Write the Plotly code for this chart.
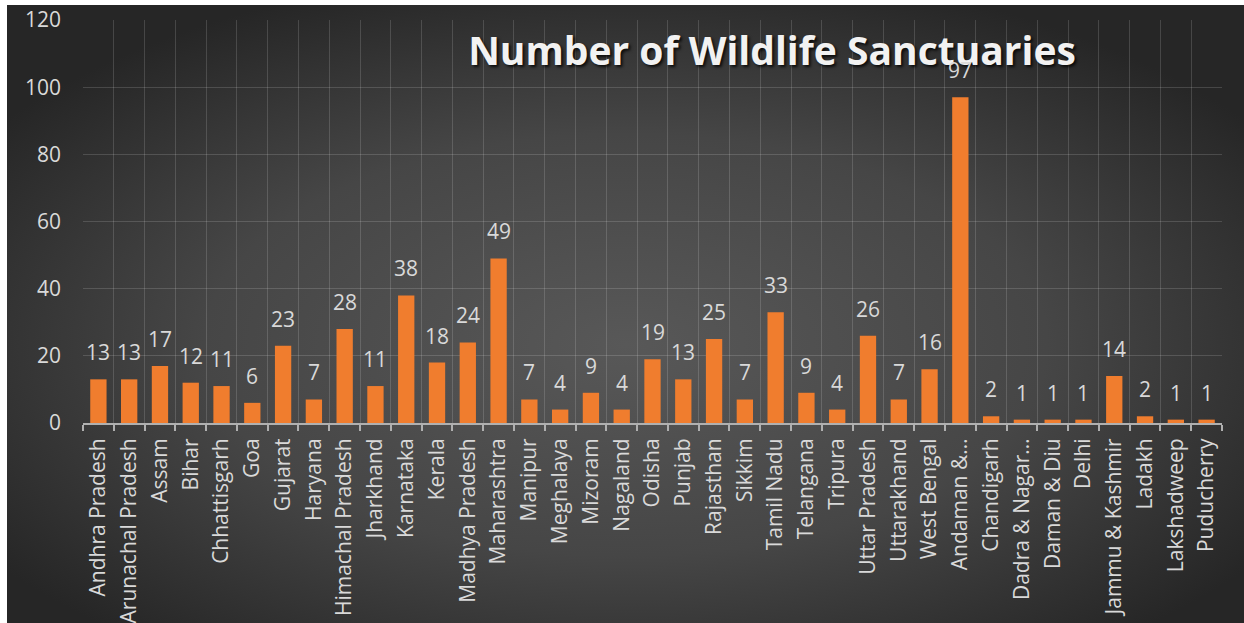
import plotly.graph_objects as go
import urllib.parse

categories = ["Andhra Pradesh", "Arunachal Pradesh", "Assam", "Bihar", "Chhattisgarh", "Goa",
              "Gujarat", "Haryana", "Himachal Pradesh", "Jharkhand", "Karnataka", "Kerala",
              "Madhya Pradesh", "Maharashtra", "Manipur", "Meghalaya", "Mizoram", "Nagaland",
              "Odisha", "Punjab", "Rajasthan", "Sikkim", "Tamil Nadu", "Telangana", "Tripura",
              "Uttar Pradesh", "Uttarakhand", "West Bengal", "Andaman &…", "Chandigarh",
              "Dadra & Nagar…", "Daman & Diu", "Delhi", "Jammu & Kashmir", "Ladakh",
              "Lakshadweep", "Puducherry"]
values = [13, 13, 17, 12, 11, 6, 23, 7, 28, 11, 38, 18, 24, 49, 7, 4, 9, 4, 19, 13, 25, 7,
          33, 9, 4, 26, 7, 16, 97, 2, 1, 1, 1, 14, 2, 1, 1]
y_ticks = [0, 20, 40, 60, 80, 100, 120]
title_text = "Number of Wildlife Sanctuaries"

W, H = 1244, 623

svg = ('<svg xmlns="http://www.w3.org/2000/svg" width="1237" height="618" viewBox="0 0 1237 618" '
       'preserveAspectRatio="none"><defs><radialGradient id="g" cx="50%" cy="55%" r="62%">'
       '<stop offset="0" stop-color="#585858"/><stop offset="0.55" stop-color="#464646"/>'
       '<stop offset="1" stop-color="#262626"/></radialGradient></defs>'
       '<rect width="1237" height="618" fill="url(#g)"/></svg>')
bg_uri = "data:image/svg+xml;charset=utf-8," + urllib.parse.quote(svg)

fig = go.Figure()
fig.add_trace(go.Bar(
    x=categories, y=values,
    marker=dict(color="#F07D2E", line=dict(width=0)),
    hoverinfo="x+y",
))

label_annotations = [
    dict(x=c, y=v, xref="x", yref="y", text=str(v), showarrow=False,
         yanchor="bottom", xanchor="center", yshift=11,
         font=dict(family="Open Sans", size=21, color="#d9d9d9"))
    for c, v in zip(categories, values)
]

fig.update_layout(
    width=W, height=H,
    margin=dict(l=0, r=0, t=0, b=0, pad=0),
    paper_bgcolor="white",
    plot_bgcolor="rgba(0,0,0,0)",
    showlegend=False,
    bargap=0.47,
    font=dict(family="Open Sans", color="#d9d9d9"),
    images=[dict(source=bg_uri, xref="paper", yref="paper", x=7 / W, y=1 - 5 / H,
                 sizex=(W - 7) / W, sizey=(H - 5) / H, sizing="stretch",
                 xanchor="left", yanchor="top", layer="below")],
    title=dict(text="<b>" + title_text + "</b>", x=772 / W, y=1 - 51 / H,
               xanchor="center", yanchor="middle", automargin=False,
               font=dict(family="Open Sans", size=39, color="#f2f2f2",
                         shadow="2px 2px 3px rgba(0,0,0,0.8)")),
    annotations=label_annotations,
    xaxis=dict(domain=[83 / W, 1222 / W], type="category", tickson="boundaries",
               automargin=False,
               showgrid=True, gridcolor="rgba(255,255,255,0.15)", gridwidth=1,
               ticks="outside", ticklen=6, tickcolor="#b0b0b0", tickwidth=1.5,
               showline=True, linecolor="#b0b0b0", linewidth=2,
               tickangle=-90, tickfont=dict(family="Open Sans", size=21, color="#d9d9d9"),
               ticklabelstandoff=5),
    yaxis=dict(domain=[1 - 423 / H, 1 - 20 / H], range=[0, 120], tickvals=y_ticks,
               automargin=False,
               showgrid=True, gridcolor="rgba(255,255,255,0.15)", gridwidth=1,
               zeroline=False, showline=False, ticks="",
               tickfont=dict(family="Open Sans", size=21, color="#d9d9d9"),
               ticklabelstandoff=21),
)

fig.write_html("out.html")
